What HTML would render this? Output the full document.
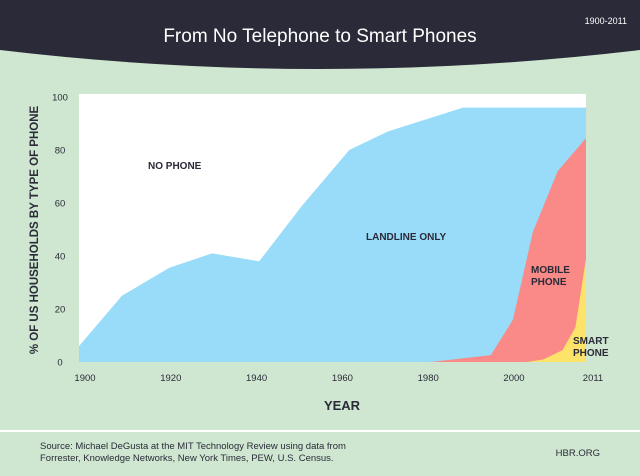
<!DOCTYPE html>
<html><head><meta charset="utf-8"><style>
body{margin:0;width:640px;height:471px;overflow:hidden;background:#cfe7d1;font-family:"Liberation Sans",sans-serif}
</style></head><body>
<svg id="chart" width="640" height="471" viewBox="0 0 640 471" xmlns="http://www.w3.org/2000/svg">
<rect x="0" y="0" width="640" height="471" fill="#cfe7d1"/>
<path d="M0,0 H640 V50 Q320,88 0,50 Z" fill="#2a2a38"/>
<text x="320" y="42" text-anchor="middle" fill="#fff" font-size="19">From No Telephone to Smart Phones</text>
<text x="627" y="24" text-anchor="end" fill="#fff" font-size="9">1900-2011</text>
<rect x="79" y="94" width="507" height="268" fill="#fff"/>
<g id="series"></g>
<g id="axes"></g>
<text transform="translate(38,230) rotate(-90)" text-anchor="middle" fill="#2a2a38" font-size="11.5" font-weight="bold">% OF US HOUSEHOLDS BY TYPE OF PHONE</text>
<text x="342" y="410" text-anchor="middle" fill="#2a2a38" font-size="13" font-weight="bold">YEAR</text>
<text x="148" y="169" fill="#2a2a38" font-size="10" font-weight="bold">NO PHONE</text>
<text x="366" y="240" fill="#2a2a38" font-size="10" font-weight="bold">LANDLINE ONLY</text>
<text x="531" y="273" fill="#2a2a38" font-size="10" font-weight="bold">MOBILE</text>
<text x="531" y="285" fill="#2a2a38" font-size="10" font-weight="bold">PHONE</text>
<text x="573" y="344" fill="#2a2a38" font-size="10" font-weight="bold">SMART</text>
<text x="573" y="356" fill="#2a2a38" font-size="10" font-weight="bold">PHONE</text>
<rect x="0" y="430" width="640" height="2" fill="#fff"/>
<text x="40" y="449" fill="#2a2a38" font-size="9.5">Source: Michael DeGusta at the MIT Technology Review using data from</text>
<text x="40" y="461" fill="#2a2a38" font-size="9.5">Forrester, Knowledge Networks, New York Times, PEW, U.S. Census.</text>
<text x="600" y="456" text-anchor="end" fill="#2a2a38" font-size="9.5">HBR.ORG</text>
</svg>
<script>
const anyYears=[1900,1910,1921,1931,1942,1952,1963,1972,1989.5,2011];
const anyVals=[6,25,35.5,41,38,59,80,87,96,96];
const mobYears=[1982,1996,2000.7,2003.5,2007,2011];
const mobVals=[0,2.6,16,49,72,84.5];
const smartYears=[2002.7,2005,2007.7,2009.5,2011];
const smartVals=[0,1,4.5,13,39];
const xTicks=[1900,1920,1940,1960,1980,2000,2011];
const yTicks=[0,20,40,60,80,100];

function x(yr){return yr<=2000?79+(yr-1900)*4.29:508+(yr-2000)*7.09;}
function y(v){return 362-v*2.65;}
const NS='http://www.w3.org/2000/svg';
function area(years,vals,color,name){
  let d='M'+x(years[0])+','+y(0);
  years.forEach((yr,i)=>{d+=' L'+x(yr)+','+y(vals[i]);});
  d+=' L'+x(years[years.length-1])+','+y(0)+' Z';
  const p=document.createElementNS(NS,'path');
  p.setAttribute('d',d);p.setAttribute('fill',color);
  
  
  document.getElementById('series').appendChild(p);
}
area(anyYears,anyVals,'#99dcfa','area-landline-only');
area(mobYears,mobVals,'#f98a87','area-mobile-phone');
area(smartYears,smartVals,'#fde36a','area-smart-phone');
const ax=document.getElementById('axes');
yTicks.forEach(v=>{
  const t=document.createElementNS(NS,'text');
  t.setAttribute('x',60);t.setAttribute('y',y(v)+3.5);
  t.setAttribute('text-anchor','middle');t.setAttribute('font-size','9.5');t.setAttribute('fill','#2a2a38');
  t.textContent=v;
  
  
  ax.appendChild(t);
});
xTicks.forEach(v=>{
  const t=document.createElementNS(NS,'text');
  t.setAttribute('x',v===2011?593:x(v)+6);t.setAttribute('y',381);
  t.setAttribute('text-anchor','middle');t.setAttribute('font-size','9.5');t.setAttribute('fill','#2a2a38');
  t.textContent=v;
  
  
  ax.appendChild(t);
});
</script>
</body></html>
